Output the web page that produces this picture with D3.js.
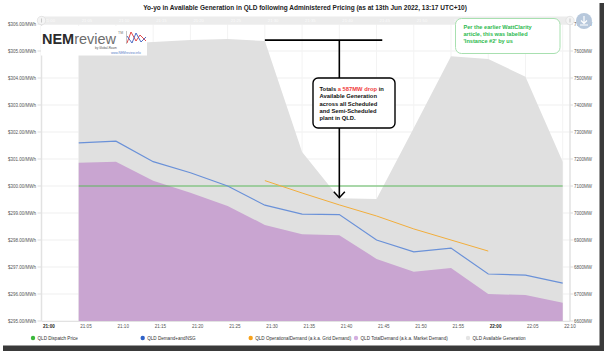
<!DOCTYPE html>
<html>
<head>
<meta charset="utf-8">
<script src="https://cdn.jsdelivr.net/npm/d3@7"></script>
<style>
    body { margin: 0; background: #fff; }
    svg { display: block; font-family: "Liberation Sans", Arial, sans-serif; }
</style>
</head>
<body>
<div id="chart"></div>
<script>
// 5-minute dispatch intervals
let times = ["21:05", "21:10", "21:15", "21:20", "21:25", "21:30", "21:35",
    "21:40", "21:45", "21:50", "21:55", "22:00", "22:05", "22:10"];
let availGen = [7615, 7626, 7633, 7641, 7644, 7637, 7226, 7055, 7052, 7315, 7581, 7570, 7505, 7190];
let demandNSG = [7260, 7266, 7190, 7149, 7100, 7029, 6996, 6994, 6900, 6856, 6870, 6774, 6770, 6740];
let totalDemand = [7186, 7190, 7119, 7075, 7026, 6956, 6921, 6918, 6830, 6782, 6796, 6700, 6696, 6668];
let dispatchPrice = [300, 300, 300, 300, 300, 300, 300, 300, 300, 300, 300, 300, 300, 300];
let opTimes = ["21:30", "21:35", "21:40", "21:45", "21:50", "21:55", "22:00"];
let opDemand = [7120, 7074, 7030, 6989, 6941, 6900, 6859];

let priceTicks = [295, 296, 297, 298, 299, 300, 301, 302, 303, 304, 305, 306];
let mwTicks = [6600, 6700, 6800, 6900, 7000, 7100, 7200, 7300, 7400, 7500, 7600, 7700];

let legendItems = [
    {name: "QLD Dispatch Price", color: "#3cb83c"},
    {name: "QLD Demand+andNSG", color: "#2f62c8"},
    {name: "QLD OperationalDemand (a.k.a. Grid Demand)", color: "#f7a21b"},
    {name: "QLD TotalDemand (a.k.a. Market Demand)", color: "#d3aee0"},
    {name: "QLD Available Generation", color: "#e4e4e4"}
];

// annotation: drop in available generation
let dropTop = 7640, dropBottom = 7053;
let dropStart = "21:30:00", dropEnd = "21:45:46", dropAt = "21:40:00";

let W = 604, H = 351;
let svg = d3.select("#chart").append("svg")
    .attr("width", W)
    .attr("height", H);

let parse = d3.timeParse("%H:%M");
let parseS = d3.timeParse("%H:%M:%S");

let x = d3.scaleTime()
    .domain([parse("21:00"), parse("22:10")])
    .range([41.5, 562.7]);
let yL = d3.scaleLinear().domain([295, 306]).range([321, 24]);
let yR = d3.scaleLinear().domain([6600, 7700]).range([321, 24]);

let plotL = 41.5, plotR = 570;

// title
svg.append("text")
    .attr("x", 305).attr("y", 9.5)
    .attr("text-anchor", "middle")
    .style("font-size", "6.5px")
    .style("font-weight", "bold")
    .style("fill", "#222")
    .text("Yo-yo in Available Generation in QLD following Administered Pricing (as at 13th Jun 2022, 13:17 UTC+10)");

// grid
let xTicks = d3.timeMinute.every(5).range(parse("21:00"), d3.timeSecond.offset(parse("22:10"), 1));
svg.append("g").selectAll("line.hgrid")
    .data(priceTicks)
    .enter().append("line")
    .attr("x1", plotL).attr("x2", plotR)
    .attr("y1", d => yL(d)).attr("y2", d => yL(d))
    .style("stroke", "#efefef").style("stroke-width", 1);
svg.append("g").selectAll("line.vgrid")
    .data(xTicks)
    .enter().append("line")
    .attr("x1", d => x(d)).attr("x2", d => x(d))
    .attr("y1", 24).attr("y2", 321)
    .style("stroke", "#f3f3f3").style("stroke-width", 1);

// available generation area
let pts = times.map(parse);
svg.append("path")
    .datum(availGen)
    .attr("d", d3.area().x((d, i) => x(pts[i])).y0(yR(6600)).y1(d => yR(d)))
    .style("fill", "#e0e0e0");

// total demand area
svg.append("path")
    .datum(totalDemand)
    .attr("d", d3.area().x((d, i) => x(pts[i])).y0(yR(6600)).y1(d => yR(d)))
    .style("fill", "#c9a5d1");

// dispatch price
svg.append("path")
    .datum(dispatchPrice)
    .attr("d", d3.line().x((d, i) => x(pts[i])).y(d => yL(d)))
    .style("fill", "none")
    .style("stroke", "#5cb85c")
    .style("stroke-opacity", 0.5)
    .style("stroke-width", 1.8);

// demand and NSG
svg.append("path")
    .datum(demandNSG)
    .attr("d", d3.line().x((d, i) => x(pts[i])).y(d => yR(d)))
    .style("fill", "none")
    .style("stroke", "#6a91d8")
    .style("stroke-width", 1.2);

// operational demand
let opPts = opTimes.map(parse);
svg.append("path")
    .datum(opDemand)
    .attr("d", d3.line().x((d, i) => x(opPts[i])).y(d => yR(d)))
    .style("fill", "none")
    .style("stroke", "#f2ae3c")
    .style("stroke-width", 1);

// axes lines
svg.append("line").attr("x1", plotL).attr("x2", plotL).attr("y1", 22).attr("y2", 321)
    .style("stroke", "#e2e2e2").style("stroke-width", 1.5);
svg.append("line").attr("x1", plotR).attr("x2", plotR).attr("y1", 22).attr("y2", 321)
    .style("stroke", "#e2e2e2").style("stroke-width", 1.5);
svg.append("line").attr("x1", plotL).attr("x2", plotR).attr("y1", 321.5).attr("y2", 321.5)
    .style("stroke", "#e2e2e2").style("stroke-width", 1);

// left axis labels
svg.append("g").selectAll("text")
    .data(priceTicks)
    .enter().append("text")
    .attr("x", 36).attr("y", d => yL(d))
    .attr("dy", "0.35em")
    .attr("text-anchor", "end")
    .style("font-size", "4.5px").style("fill", "#555")
    .text(d => "$" + d.toFixed(2) + "/MWh");
svg.append("g").selectAll("line")
    .data(priceTicks)
    .enter().append("line")
    .attr("x1", 37.5).attr("x2", 41).attr("y1", d => yL(d)).attr("y2", d => yL(d))
    .style("stroke", "#ddd");

// right axis labels
svg.append("g").selectAll("text")
    .data(mwTicks)
    .enter().append("text")
    .attr("x", 574).attr("y", d => yR(d))
    .attr("dy", "0.35em")
    .style("font-size", "4.5px").style("fill", "#555")
    .text(d => d + "MW");
svg.append("g").selectAll("line")
    .data(mwTicks)
    .enter().append("line")
    .attr("x1", 570).attr("x2", 573).attr("y1", d => yR(d)).attr("y2", d => yR(d))
    .style("stroke", "#ddd");

// bottom axis labels
let fmt = d3.timeFormat("%H:%M");
svg.append("g").selectAll("text")
    .data(xTicks)
    .enter().append("text")
    .attr("x", d => x(d) + 1.5).attr("y", 327.5)
    .style("font-size", "4.6px")
    .style("fill", d => d.getMinutes() === 0 ? "#222" : "#555")
    .style("font-weight", d => d.getMinutes() === 0 ? "bold" : "normal")
    .text(d => fmt(d));

// top navigator band
svg.append("rect")
    .attr("x", plotL).attr("y", 16.5).attr("width", plotR - plotL).attr("height", 8)
    .style("fill", "#ececec");
svg.append("g").selectAll("text")
    .data(xTicks.slice(0, 13))
    .enter().append("text")
    .attr("x", d => x(d) + 3).attr("y", 22)
    .style("font-size", "4.2px").style("fill", "#fbfbfb")
    .text(d => fmt(d));
[plotL, plotR].forEach(function(cx) {
    svg.append("circle").attr("cx", cx).attr("cy", 20.5).attr("r", 4.2)
        .style("fill", "#f4f4f4").style("stroke", "#d8d8d8").style("stroke-width", 0.6);
    svg.append("line").attr("x1", cx).attr("x2", cx).attr("y1", 18.5).attr("y2", 22.5)
        .style("stroke", "#aaa").style("stroke-width", 0.6);
});

// export button
svg.append("circle").attr("cx", 584).attr("cy", 21).attr("r", 8)
    .style("fill", "#b7c8dc");
svg.append("path")
    .attr("d", "M584,16 L584,23 M581,20.5 L584,23.5 L587,20.5 M580,25 L588,25")
    .style("fill", "none").style("stroke", "#fff").style("stroke-width", 1.2);

// logo
let logo = svg.append("g");
logo.append("rect").attr("x", 41).attr("y", 26).attr("width", 106).attr("height", 29.5)
    .style("fill", "#fff");
let lt = logo.append("text").attr("x", 42).attr("y", 43.5)
    .attr("textLength", 74).attr("lengthAdjust", "spacingAndGlyphs")
    .style("font-size", "14.5px");
lt.append("tspan").text("NEM").style("fill", "#2b2b2b").style("font-weight", "bold");
lt.append("tspan").text("review").style("fill", "#6d6d6d");
logo.append("text").attr("x", 118).attr("y", 34).style("font-size", "3.5px").style("fill", "#777").text("TM");
logo.append("text").attr("x", 95).attr("y", 48.5).style("font-size", "3px").style("fill", "#555").text("by Global-Roam");
logo.append("text").attr("x", 111).attr("y", 54).style("font-size", "3.2px").style("fill", "#5a7fc8").text("www.NEMreview.info");
logo.append("path").attr("d", "M127,43 L131,32 L136,41 L140,35 L146,41")
    .style("fill", "none").style("stroke", "#e03535").style("stroke-width", 0.9);
logo.append("path").attr("d", "M127,36 L132,43 L136,33 L141,42 L146,37")
    .style("fill", "none").style("stroke", "#3b5fc0").style("stroke-width", 0.9);
logo.append("line").attr("x1", 126.5).attr("x2", 126.5).attr("y1", 31).attr("y2", 44)
    .style("stroke", "#888").style("stroke-width", 0.5);

// drop annotation
let ax = x(parseS(dropAt));
svg.append("line")
    .attr("x1", x(parseS(dropStart))).attr("x2", x(parseS(dropEnd)))
    .attr("y1", yR(dropTop)).attr("y2", yR(dropTop))
    .style("stroke", "#000").style("stroke-width", 1.8);
svg.append("line")
    .attr("x1", ax).attr("x2", ax)
    .attr("y1", yR(dropTop)).attr("y2", yR(dropBottom) - 1)
    .style("stroke", "#000").style("stroke-width", 1.6);
svg.append("path")
    .attr("d", "M" + (ax - 5.5) + "," + (yR(dropBottom) - 7) + " L" + ax + "," + (yR(dropBottom) - 1) +
        " L" + (ax + 5.5) + "," + (yR(dropBottom) - 7))
    .style("fill", "none").style("stroke", "#000").style("stroke-width", 1.5);

svg.append("rect")
    .attr("x", 313).attr("y", 78).attr("width", 82).attr("height", 50).attr("rx", 5)
    .style("fill", "#fff").style("stroke", "#000").style("stroke-width", 1.4);
let boxLines = [
    [["Totals ", "#111"], ["a 587MW drop", "#f03a3a"], [" in", "#111"]],
    [["Available Generation", "#111"]],
    [["across all Scheduled", "#111"]],
    [["and Semi-Scheduled", "#111"]],
    [["plant in QLD.", "#111"]]
];
boxLines.forEach(function(line, i) {
    let t = svg.append("text")
        .attr("x", 319.5).attr("y", 91 + i * 7.3)
        .style("font-size", "5.8px").style("font-weight", "bold");
    line.forEach(function(p) {
        t.append("tspan").text(p[0]).style("fill", p[1]);
    });
});

// instance note
svg.append("rect")
    .attr("x", 455.5).attr("y", 18.5).attr("width", 104.5).attr("height", 35).attr("rx", 6)
    .style("fill", "#fff").style("stroke", "#a8e0b0").style("stroke-width", 1);
["Per the earlier WattClarity", "article, this was labelled", "'Instance #2' by us"].forEach(function(s, i) {
    svg.append("text")
        .attr("x", 463.5).attr("y", 28.5 + i * 7.2)
        .style("font-size", "5.6px").style("font-weight", "bold").style("fill", "#2dba4e")
        .text(s);
});

// legend
let legendX = [33, 142.7, 250.7, 356, 468];
let lg = svg.append("g").selectAll("g")
    .data(legendItems)
    .enter().append("g")
    .attr("transform", (d, i) => "translate(" + legendX[i] + ",338)");
lg.append("circle").attr("r", 2.2).style("fill", d => d.color);
lg.append("text").attr("x", 4.5).attr("dy", "0.35em")
    .style("font-size", "4.6px").style("fill", "#333")
    .text(d => d.name);

// screenshot frame shadow
svg.append("rect").attr("x", 599.5).attr("y", 3).attr("width", 4.5).attr("height", H).style("fill", "#3a3a3a");
svg.append("rect").attr("x", 3).attr("y", 345.5).attr("width", W).attr("height", 5.5).style("fill", "#3a3a3a");
</script>
</body>
</html>
